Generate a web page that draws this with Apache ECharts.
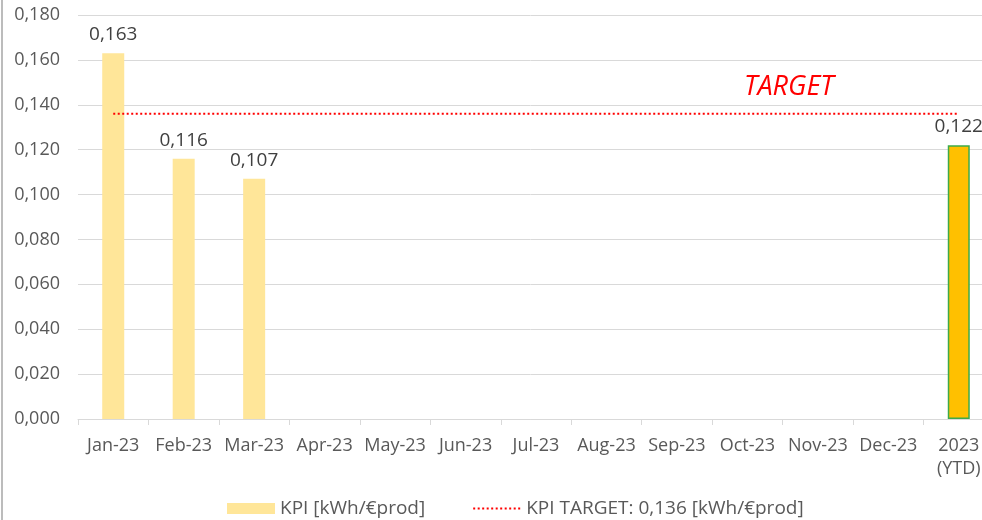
<!DOCTYPE html>
<html>
<head>
<meta charset="utf-8">
<script src="https://cdn.jsdelivr.net/npm/echarts@6/dist/echarts.min.js"></script>
<style>
html,body{margin:0;padding:0;background:#fff;overflow:hidden;}
#main{width:982px;height:520px;}
</style>
</head>
<body>
<div id="main"></div>
<script>
// === 資料 ===
const months=['Jan-23','Feb-23','Mar-23','Apr-23','May-23','Jun-23','Jul-23','Aug-23','Sep-23','Oct-23','Nov-23','Dec-23','2023\n(YTD)'];
const kpi=[0.163,0.116,0.107,null,null,null,null,null,null,null,null,null,0.122];
const target=[0.136,0.136,0.136,0.136,0.136,0.136,0.136,0.136,0.136,0.136,0.136,0.136,0.136];
const yTicks={min:0,max:0.18,step:0.02};

// === 樣式 ===
const FONT='"Open Sans", "Noto Sans", sans-serif';
const C_BAR='#FFE699',C_YTD='#FFC000',C_YTD_BORDER='#3DAA4A',C_TGT='#FF0000',C_TXT='#595959';

function fmt3(v){return v==null?'':v.toFixed(3).replace('.',',');}

const barData=kpi.map(function(v,i){
  if(i===kpi.length-1) return {value:v,itemStyle:{color:C_YTD,borderColor:C_YTD_BORDER,borderWidth:1.5}};
  return {value:v,itemStyle:{color:C_BAR}};
});

const chart=echarts.init(document.getElementById('main'));
chart.setOption({
  animation:false,
  textStyle:{fontFamily:FONT},
  // 圖表右側被裁切：繪圖區延伸到畫面外
  grid:{left:78,top:15,right:-12,bottom:101,containLabel:false,outerBoundsMode:'none'},
  xAxis:{
    type:'category',data:months,
    axisLine:{lineStyle:{color:'#d9d9d9'}},
    axisTick:{show:true,length:6,lineStyle:{color:'#d9d9d9'}},
    axisLabel:{color:C_TXT,fontSize:18,margin:15,lineHeight:23,interval:0,fontFamily:FONT}
  },
  yAxis:{
    type:'value',min:yTicks.min,max:yTicks.max,interval:yTicks.step,
    axisLine:{show:false},axisTick:{show:false},
    splitLine:{lineStyle:{color:'#d9d9d9',width:1}},
    axisLabel:{color:C_TXT,fontSize:18,margin:18,formatter:fmt3,fontFamily:FONT}
  },
  legend:{
    bottom:-3,left:222,itemGap:47,itemWidth:48,itemHeight:11,
    textStyle:{color:C_TXT,fontSize:19,fontFamily:FONT},
    data:[
      {name:'KPI [kWh/€prod]',icon:'rect',itemStyle:{color:C_BAR,borderWidth:0}},
      {name:'KPI TARGET: 0,136 [kWh/€prod]',itemStyle:{opacity:0}}
    ]
  },
  graphic:[
    {type:'rect',silent:true,shape:{x:2,y:-5,width:1000,height:540},style:{fill:'none',stroke:'#a6a6a6',lineWidth:1.5}},
    {type:'text',silent:true,left:744,top:74,style:{text:'TARGET',fill:C_TGT,font:'italic 27px '+FONT}}
  ],
  series:[
    {
      name:'KPI [kWh/€prod]',type:'bar',data:barData,barWidth:22,
      label:{show:true,position:'top',distance:9,color:'#404040',fontSize:19,fontFamily:FONT,formatter:function(p){return fmt3(p.value);}}
    },
    {
      name:'KPI TARGET: 0,136 [kWh/€prod]',type:'line',data:target,symbol:'none',
      lineStyle:{color:C_TGT,width:2,type:[2,2.5]},itemStyle:{color:C_TGT}
    }
  ]
});
</script>
</body>
</html>
